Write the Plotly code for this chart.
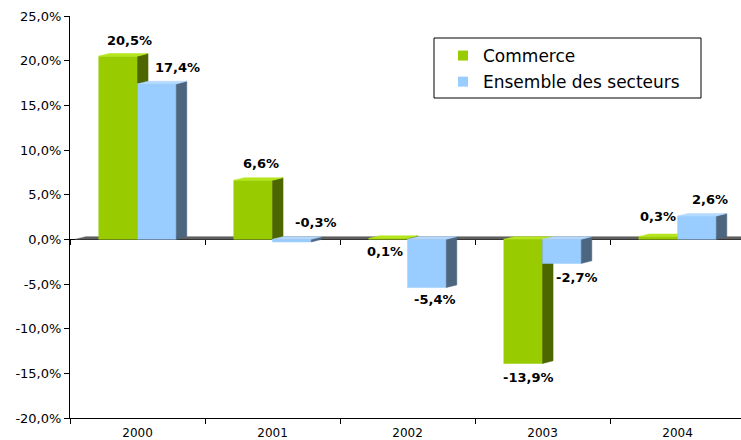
import plotly.graph_objects as go

# ---------------- data ----------------
years = ["2000", "2001", "2002", "2003", "2004"]
commerce = [20.5, 6.6, 0.1, -13.9, 0.3]
ensemble = [17.4, -0.3, -5.4, -2.7, 2.6]
series_names = ["Commerce", "Ensemble des secteurs"]
y_tick_vals = [-20, -15, -10, -5, 0, 5, 10, 15, 20, 25]

# ---------------- style / layout ----------------
FONT = "DejaVu Sans"
GREEN = dict(front="#99CC00", side="#4D6600", top="#B5E61D")
BLUE = dict(front="#99CCFF", side="#4D6680", top="#B3D9FF")
W = 0.287      # bar width (category units)
DX = 0.078     # 3D depth in x (category units)
DY = 0.30      # 3D depth in y (value units)
X_RANGE = [-0.5, 4.47]
Y_RANGE = [-20, 25]

# label offsets in pixels (relative to category center / bar value)
c_lab_dx = [-8, -12, -23, -14, -20]
c_lab_dy = [16, 17, -13, -14, 20]
e_lab_dx = [40, 43, 27, 34, 32]
e_lab_dy = [16, 20, -12, -14, 17]


def fmt(v):
    return f"{v:.1f}".replace(".", ",") + "%"


def faces(vals, offset):
    fx, fy, sx, sy, tx, ty = [], [], [], [], [], []
    for i, v in enumerate(vals):
        x0 = i + offset
        x1 = x0 + W
        lo, hi = min(v, 0), max(v, 0)
        fx += [x0, x1, x1, x0, x0, None]
        fy += [lo, lo, hi, hi, lo, None]
        sx += [x1, x1 + DX, x1 + DX, x1, x1, None]
        sy += [lo, lo + DY, hi + DY, hi, lo, None]
        tx += [x0, x0 + DX, x1 + DX, x1, x0, None]
        ty += [hi, hi + DY, hi + DY, hi, hi, None]
    return (fx, fy), (sx, sy), (tx, ty)


def poly(xy, color):
    return go.Scatter(x=xy[0], y=xy[1], mode="lines", fill="toself",
                      fillcolor=color, line=dict(color=color, width=0.5),
                      showlegend=False, hoverinfo="skip")


fig = go.Figure()

# floor
fig.add_trace(poly(([X_RANGE[0] + DX * 0.5, X_RANGE[0] + DX * 1.5, X_RANGE[1] + DX, X_RANGE[1], X_RANGE[0] + DX * 0.5],
                    [0, DY, DY, 0, 0]), "#606060"))

for vals, off, col in [(commerce, -W, GREEN), (ensemble, 0, BLUE)]:
    f, s, t = faces(vals, off)
    fig.add_trace(poly(f, col["front"]))
    fig.add_trace(poly(s, col["side"]))
    fig.add_trace(poly(t, col["top"]))

# legend entries
for name, col, grp in [(series_names[0], GREEN, "a"), (series_names[1], BLUE, "b")]:
    fig.add_trace(go.Scatter(x=[None], y=[None], mode="markers", name=name,
                             legendgroup=grp,
                             marker=dict(symbol="square", size=10, color=col["front"])))

# dummy trace for zero-level category axis
fig.add_trace(go.Scatter(x=[None], y=[None], xaxis="x2", showlegend=False, hoverinfo="skip"))

# value labels
for i, v in enumerate(commerce):
    fig.add_annotation(x=i, y=v, text=f"<b>{fmt(v)}</b>", showarrow=False,
                       xshift=c_lab_dx[i], yshift=c_lab_dy[i],
                       font=dict(family=FONT, size=13, color="black"))
for i, v in enumerate(ensemble):
    fig.add_annotation(x=i, y=v, text=f"<b>{fmt(v)}</b>", showarrow=False,
                       xshift=e_lab_dx[i], yshift=e_lab_dy[i],
                       font=dict(family=FONT, size=13, color="black"))

boundaries = [i - 0.5 for i in range(len(years))]

# legend frame (pixels -> paper)
PL, PR, PT, PB = 70, 741, 16, 418
def px(x): return (x - PL) / (PR - PL)
def py(y): return 1 - (y - PT) / (PB - PT)

fig.add_shape(type="rect", xref="paper", yref="paper",
              x0=px(434), x1=px(701), y0=py(98), y1=py(38),
              line=dict(color="black", width=1), fillcolor="white", layer="below")

fig.update_layout(
    width=741, height=440,
    margin=dict(l=70, r=0, t=16, b=22),
    plot_bgcolor="white", paper_bgcolor="white",
    font=dict(family=FONT, size=13, color="black"),
    legend=dict(x=px(443), y=py(38), xanchor="left", yanchor="top",
                bgcolor="rgba(0,0,0,0)", borderwidth=0,
                font=dict(family=FONT, size=17, color="black"),
                tracegroupgap=1),
    xaxis=dict(range=X_RANGE, tickvals=list(range(len(years))), ticktext=years,
               ticks="", showline=True, linecolor="black", linewidth=1,
               showgrid=False, zeroline=False, ticklabelstandoff=4,
               automargin=False,
               minor=dict(tickvals=boundaries, ticks="outside", ticklen=5,
                          tickcolor="black", showgrid=False),
               tickfont=dict(family=FONT, size=12, color="black")),
    xaxis2=dict(range=X_RANGE, overlaying="x", anchor="free",
                position=(0 - Y_RANGE[0]) / (Y_RANGE[1] - Y_RANGE[0]),
                showline=False, showticklabels=False, ticks="", showgrid=False,
                zeroline=False, automargin=False,
                minor=dict(tickvals=boundaries, ticks="outside", ticklen=5,
                           tickcolor="black", showgrid=False)),
    yaxis=dict(range=Y_RANGE, tickvals=y_tick_vals,
               ticktext=[fmt(v) for v in y_tick_vals],
               ticks="outside", ticklen=5, tickcolor="black",
               showline=True, linecolor="black", linewidth=1, automargin=False,
               showgrid=False, zeroline=True, zerolinecolor="black", zerolinewidth=1,
               tickfont=dict(family=FONT, size=13, color="black")),
)

fig.write_html("out.html", config={"displayModeBar": False},
               post_script="document.body.style.margin='0';")
